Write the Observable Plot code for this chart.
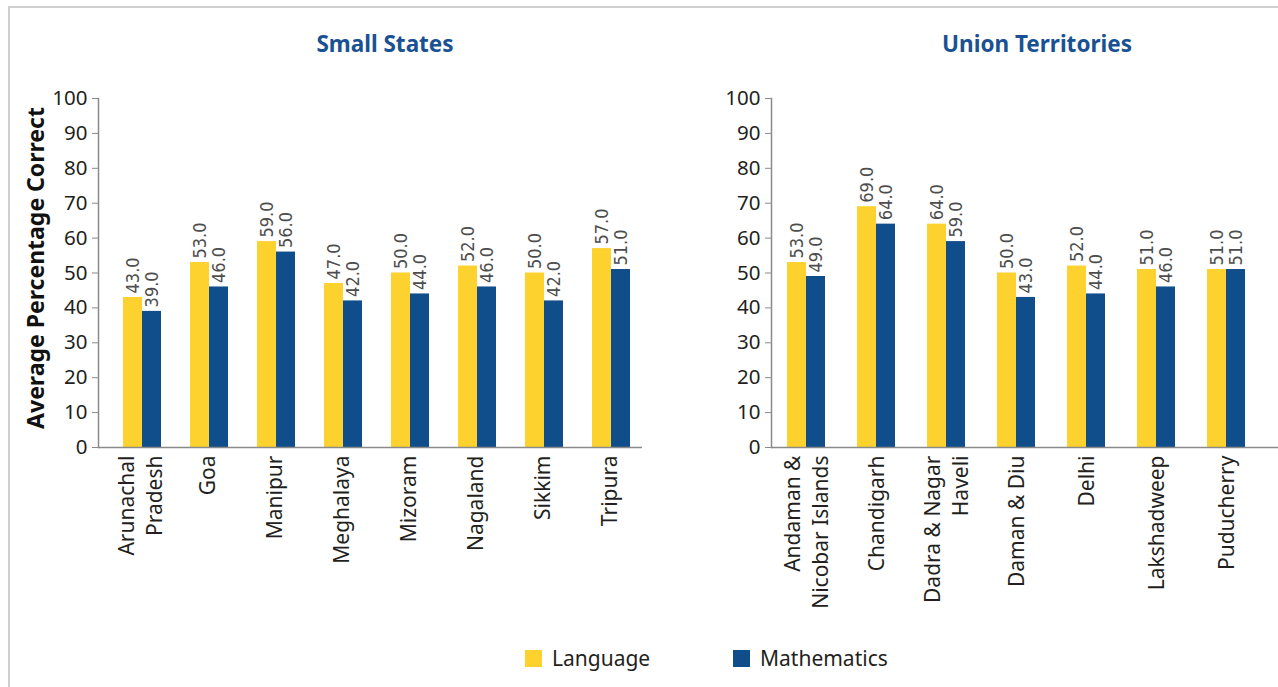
<!DOCTYPE html>
<html>
<head>
<meta charset="utf-8">
<script src="https://cdn.jsdelivr.net/npm/d3@7"></script>
<script src="https://cdn.jsdelivr.net/npm/@observablehq/plot@0.6"></script>
<style>
  html, body { margin: 0; padding: 0; background: #fff; }
  #wrap { position: relative; width: 1278px; height: 687px; overflow: hidden; font-family: "Noto Sans", sans-serif; }
  #border { position: absolute; left: 8px; top: 6px; width: 1290px; height: 700px; border-top: 2px solid #cfcfcf; border-left: 2px solid #cfcfcf; }
  .panel { position: absolute; top: 0; }
  .title { position: absolute; top: 28px; font-weight: 700; font-size: 22.5px; color: #1a5192; white-space: nowrap; transform: translateX(-50%); }
  #ylabel { position: absolute; left: 35px; top: 268px; transform: translate(-50%, -50%) rotate(-90deg); font-weight: 700; font-size: 23px; color: #111; white-space: nowrap; }
  .leg { position: absolute; top: 644px; display: flex; align-items: center; font-size: 21px; color: #231f20; }
  .leg span.sw { display: inline-block; width: 17px; height: 17px; margin-right: 10px; }
</style>
</head>
<body>
<div id="wrap">
  <div id="border"></div>
  <div class="title" style="left:385px">Small States</div>
  <div class="title" style="left:1037px">Union Territories</div>
  <div id="ylabel">Average Percentage Correct</div>
  <div id="left" class="panel" style="left:0px"></div>
  <div id="right" class="panel" style="left:660px"></div>
  <div class="leg" style="left:525px"><span class="sw" style="background:#FED22E"></span>Language</div>
  <div class="leg" style="left:733px"><span class="sw" style="background:#0F4E8B"></span>Mathematics</div>
</div>
<script>
// ---- data ----
const stateNames = ["Arunachal\nPradesh", "Goa", "Manipur", "Meghalaya", "Mizoram", "Nagaland", "Sikkim", "Tripura"];
const stateLanguage = [43, 53, 59, 47, 50, 52, 50, 57];
const stateMaths    = [39, 46, 56, 42, 44, 46, 42, 51];

const utNames = ["Andaman &\nNicobar Islands", "Chandigarh", "Dadra & Nagar\nHaveli", "Daman & Diu", "Delhi", "Lakshadweep", "Puducherry"];
const utLanguage = [53, 69, 64, 50, 52, 51, 51];
const utMaths    = [49, 64, 59, 43, 44, 46, 51];

const yTicks = [0, 10, 20, 30, 40, 50, 60, 70, 80, 90, 100];

const YELLOW = "#FED22E";
const BLUE = "#0F4E8B";
const AXIS = "#8a8a8a";
const NARROW = "'Liberation Sans Narrow', 'DejaVu Sans Condensed', sans-serif";

function panel({names, lang, math, width, marginLeft, marginRight, pi, po, align, labelDx}) {
  const rows = names.map((c, i) => ({cat: c, lang: lang[i], math: math[i]}));
  const n = names.length;
  const rangeW = width - marginLeft - marginRight;
  const step = rangeW / (n - pi + 2 * po);
  const bw = step * (1 - pi);
  const half = bw / 2;
  return Plot.plot({
    width,
    height: 687,
    marginTop: 98,
    marginBottom: 240,
    marginLeft,
    marginRight,
    style: {fontFamily: "Noto Sans, sans-serif", background: "transparent", overflow: "visible"},
    x: {domain: names, paddingInner: pi, paddingOuter: po, align, axis: null},
    y: {domain: [0, 100], axis: null},
    marks: [
      Plot.barY(rows, {x: "cat", y: "lang", fill: YELLOW, insetLeft: 0, insetRight: half}),
      Plot.barY(rows, {x: "cat", y: "math", fill: BLUE, insetLeft: half, insetRight: 0}),
      Plot.text(rows, {x: "cat", y: "lang", text: d => d.lang.toFixed(1), rotate: -90, textAnchor: "start", lineAnchor: "middle", dx: -half / 2, dy: -4, fontSize: 18, fontFamily: NARROW, fill: "#4d4d4d"}),
      Plot.text(rows, {x: "cat", y: "math", text: d => d.math.toFixed(1), rotate: -90, textAnchor: "start", lineAnchor: "middle", dx: half / 2, dy: -4, fontSize: 18, fontFamily: NARROW, fill: "#4d4d4d"}),
      Plot.axisY({ticks: yTicks, tickSize: 6, tickPadding: 5, fontSize: 20.5, stroke: AXIS, color: "#231f20", label: null}),
      Plot.frame({anchor: "left", stroke: AXIS, strokeWidth: 1.5}),
      Plot.ruleY([0], {stroke: AXIS, strokeWidth: 1.5}),
      Plot.text(names, {x: d => d, frameAnchor: "bottom", dy: 8, dx: labelDx, rotate: -90, textAnchor: "end", lineAnchor: "middle", lineHeight: 1.33, fontSize: 21, fill: "#231f20"})
    ]
  });
}

document.getElementById("left").appendChild(panel({
  names: stateNames, lang: stateLanguage, math: stateMaths,
  width: 660, marginLeft: 98, marginRight: 18, pi: 0.435, po: 0.259, align: 0.66, labelDx: -3
}));
document.getElementById("right").appendChild(panel({
  names: utNames, lang: utLanguage, math: utMaths,
  width: 618, marginLeft: 111, marginRight: 0, pi: 0.461, po: 0.326, align: 0.33, labelDx: -1
}));
</script>
</body>
</html>
